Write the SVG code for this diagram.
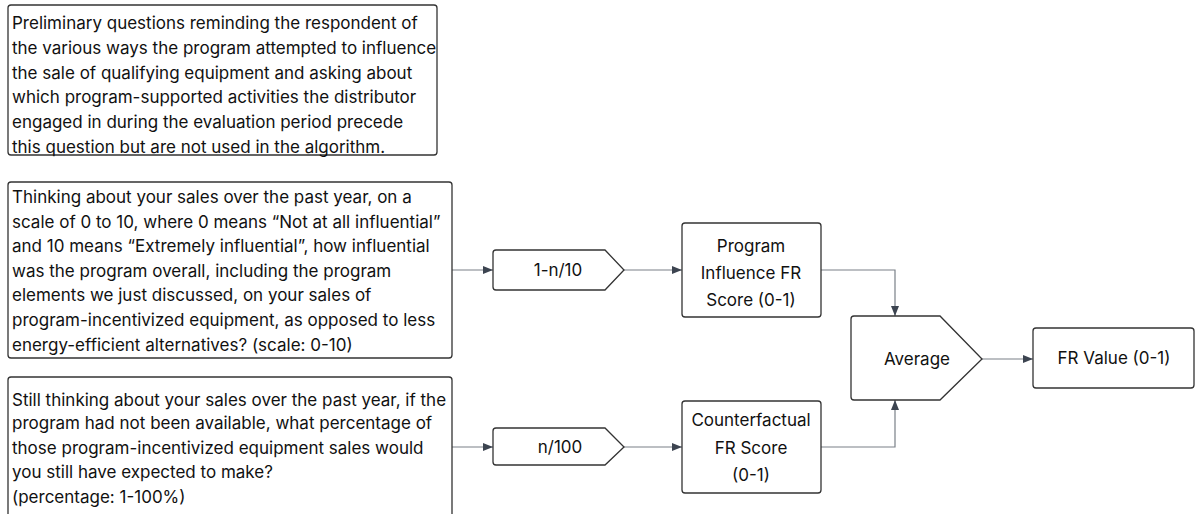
<svg xmlns="http://www.w3.org/2000/svg" width="1196" height="514" viewBox="0 0 1196 514">
<defs>
<style>
.box{fill:#fff;stroke:#333;stroke-width:1.3}
.t{font-family:Inter,"Liberation Sans",sans-serif;font-size:17px;fill:#111}
.c{text-anchor:middle}
.edge{fill:none;stroke:#7a8088;stroke-width:1.2}
</style>
<marker id="ah" viewBox="0 0 10 10" refX="10" refY="5" markerWidth="10" markerHeight="10" markerUnits="userSpaceOnUse" orient="auto">
<path d="M0,1 L10,5 L0,9 z" fill="#3c4450"/>
</marker>
</defs>
<rect width="1196" height="514" fill="#fff"/>
<g id="connectors">
<path class="edge" d="M452,270 H493" marker-end="url(#ah)"/>
<path class="edge" d="M624,270 H682" marker-end="url(#ah)"/>
<path class="edge" d="M452,447 H493" marker-end="url(#ah)"/>
<path class="edge" d="M624,447 H682" marker-end="url(#ah)"/>
<path class="edge" d="M821,270 H895 V316" marker-end="url(#ah)"/>
<path class="edge" d="M821,447 H895 V400" marker-end="url(#ah)"/>
<path class="edge" d="M982,359 H1033" marker-end="url(#ah)"/>
</g>
<g id="prelim">
<rect class="box" x="8" y="5" width="429" height="150" rx="3"/>
<text class="t" x="12" y="29">Preliminary questions reminding the respondent of</text>
<text class="t" x="12" y="54">the various ways the program attempted to influence</text>
<text class="t" x="12" y="79">the sale of qualifying equipment and asking about</text>
<text class="t" x="12" y="103">which program-supported activities the distributor</text>
<text class="t" x="12" y="128">engaged in during the evaluation period precede</text>
<text class="t" x="12" y="153">this question but are not used in the algorithm.</text>
</g>
<g id="q1">
<rect class="box" x="8" y="182" width="444" height="176" rx="3"/>
<text class="t" x="12" y="203">Thinking about your sales over the past year, on a</text>
<text class="t" x="12" y="228">scale of 0 to 10, where 0 means “Not at all influential”</text>
<text class="t" x="12" y="252">and 10 means “Extremely influential”, how influential</text>
<text class="t" x="12" y="277">was the program overall, including the program</text>
<text class="t" x="12" y="301">elements we just discussed, on your sales of</text>
<text class="t" x="12" y="326">program-incentivized equipment, as opposed to less</text>
<text class="t" x="12" y="351">energy-efficient alternatives? (scale: 0-10)</text>
</g>
<g id="q2">
<rect class="box" x="8" y="377" width="444" height="145" rx="3"/>
<text class="t" x="12" y="406">Still thinking about your sales over the past year, if the</text>
<text class="t" x="12" y="429">program had not been available, what percentage of</text>
<text class="t" x="12" y="454">those program-incentivized equipment sales would</text>
<text class="t" x="12" y="478">you still have expected to make?</text>
<text class="t" x="12" y="503">(percentage: 1-100%)</text>
</g>
<g id="calc1">
<path class="box" d="M496,250 H605 L624,270 L605,290 H496 Q493,290 493,287 V253 Q493,250 496,250 Z"/>
<text class="t c" x="558" y="276">1-n/10</text>
</g>
<g id="calc2">
<path class="box" d="M496,428 H605 L624,447 L605,465 H496 Q493,465 493,462 V431 Q493,428 496,428 Z"/>
<text class="t c" x="560" y="453">n/100</text>
</g>
<g id="pifr">
<rect class="box" x="682" y="223" width="139" height="94" rx="3"/>
<text class="t c" x="751" y="252">Program</text>
<text class="t c" x="751" y="279">Influence FR</text>
<text class="t c" x="751" y="306">Score (0-1)</text>
</g>
<g id="cffr">
<rect class="box" x="682" y="401" width="139" height="92" rx="3"/>
<text class="t c" x="751" y="426">Counterfactual</text>
<text class="t c" x="751" y="454">FR Score</text>
<text class="t c" x="751" y="481">(0-1)</text>
</g>
<g id="avg">
<path class="box" d="M854,316 H940 L982,359 L940,400 H854 Q851,400 851,397 V319 Q851,316 854,316 Z"/>
<text class="t c" x="917" y="365">Average</text>
</g>
<g id="frv">
<rect class="box" x="1033" y="328" width="161" height="60" rx="3"/>
<text class="t c" x="1114" y="364">FR Value (0-1)</text>
</g>
</svg>
